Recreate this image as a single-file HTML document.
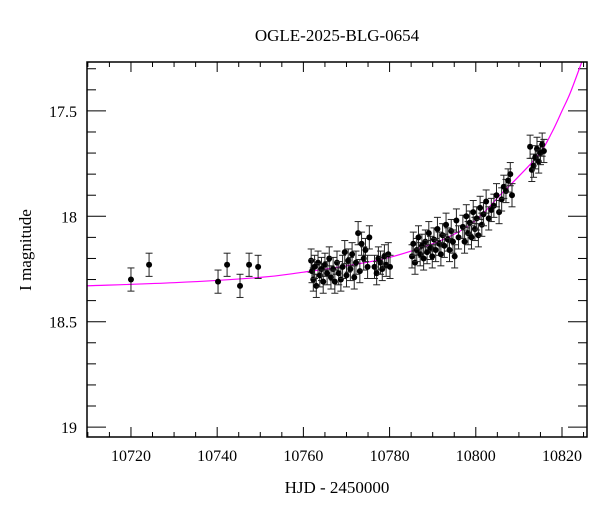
<!DOCTYPE html>
<html><head><meta charset="utf-8"><style>
body{margin:0;background:#fff}
svg text{font-family:"Liberation Serif","DejaVu Serif",serif;fill:#000}
</style></head><body>
<svg id="chart" width="600" height="512" xmlns="http://www.w3.org/2000/svg" font-family="Liberation Serif, DejaVu Serif, serif">
<rect width="600" height="512" fill="#fff"/>
<text x="337" y="41" font-size="17" text-anchor="middle" font-family="Liberation Serif, serif">OGLE-2025-BLG-0654</text>
<text x="337" y="493" font-size="17" text-anchor="middle" font-family="Liberation Serif, serif">HJD - 2450000</text>
<text transform="translate(31,250) rotate(-90)" font-size="17" text-anchor="middle" font-family="Liberation Serif, serif">I magnitude</text>
<g id="axes"></g><g id="model"></g><g id="pts"></g>
<rect x="87" y="62" width="500" height="375" fill="none" stroke="#000" stroke-width="1.5"/>
</svg>
<script>
const tData=[10720.0,10724.2,10740.2,10742.3,10745.3,10747.4,10749.5,
10761.8,10762.0,10762.3,10762.6,10763.0,10763.4,10763.8,10764.2,10764.6,10765.0,10765.5,10766.0,10766.4,10766.9,10767.3,10767.8,10768.2,10768.7,10769.1,10769.6,10770.0,10770.4,10770.9,10771.3,10771.8,10772.2,10772.7,10773.1,10773.5,10774.0,10774.4,10774.9,10775.3,10776.5,10777.0,10777.4,10777.9,10778.3,10778.8,10779.2,10779.7,10780.1,
10785.2,10785.5,10785.9,10786.3,10786.7,10787.1,10787.5,10787.9,10788.3,10788.7,10789.1,10789.5,10789.9,10790.3,10790.7,10791.1,10791.5,10791.9,10792.3,10792.7,10793.1,10793.5,10793.9,10794.3,10794.7,10795.1,10795.5,10796.0,10797.0,10797.4,10797.8,10798.2,10798.6,10799.0,10799.4,10799.8,10800.2,10800.6,10801.0,10801.4,10801.8,10802.4,10803.0,10803.6,10804.2,10804.8,10805.4,10806.0,10806.5,10807.0,10807.5,10808.0,10808.4,
10812.6,10813.0,10813.4,10813.8,10814.2,10814.6,10815.0,10815.4,10815.8];
const magData=[18.30,18.23,18.31,18.23,18.33,18.23,18.24,
18.21,18.26,18.30,18.24,18.33,18.22,18.28,18.25,18.31,18.23,18.27,18.20,18.29,18.25,18.31,18.22,18.27,18.30,18.24,18.17,18.28,18.21,18.25,18.18,18.29,18.22,18.08,18.26,18.13,18.20,18.16,18.24,18.10,18.24,18.27,18.20,18.22,18.25,18.19,18.23,18.18,18.24,
18.19,18.13,18.22,18.16,18.10,18.18,18.14,18.20,18.12,18.17,18.08,18.15,18.19,18.11,18.16,18.06,18.13,18.18,18.09,18.14,18.04,18.11,18.16,18.07,18.12,18.19,18.02,18.10,18.05,18.12,18.00,18.08,18.03,18.10,17.98,18.06,18.01,18.09,17.96,18.04,17.99,17.93,18.01,17.97,17.95,17.90,17.98,17.92,17.86,17.88,17.83,17.80,17.90,
17.67,17.78,17.76,17.72,17.68,17.74,17.70,17.66,17.69];
const ERR=0.055;
const modelT=[10709,10730,10750,10760,10770,10780,10790,10795,10799,10802,10805.6,10810,10814.9,10817.7,10820,10821.9,10824.2,10826];
const modelMag=[18.33,18.315,18.29,18.265,18.235,18.195,18.13,18.085,18.035,17.98,17.90,17.81,17.70,17.60,17.50,17.415,17.29,17.19];
const xTicks=[10720,10740,10760,10780,10800,10820];
const yTicks=[17.5,18,18.5,19];
const X0=10709.8,X1=10825.8,Y0=17.268,Y1=19.047,L=87,R=587,T=62,B=437;
const sx=v=>L+(v-X0)/(X1-X0)*(R-L), sy=v=>T+(v-Y0)/(Y1-Y0)*(B-T);
const NS="http://www.w3.org/2000/svg";
function mk(tag,at,par){const e=document.createElementNS(NS,tag);for(const k in at)e.setAttribute(k,at[k]);par.appendChild(e);return e;}
const ax=document.getElementById('axes');
for(let v=10710;v<=10825;v+=5){const x=sx(v);const maj=v%20===0;const len=maj?10:5;
 const a=mk('line',{x1:x,x2:x,y1:B,y2:B-len,stroke:'#000','stroke-width':1},ax);
 
 const b=mk('line',{x1:x,x2:x,y1:T,y2:T+len,stroke:'#000','stroke-width':1},ax);
 }
xTicks.forEach(v=>{const t=mk('text',{x:sx(v),y:B+24,'font-size':16,'text-anchor':'middle','font-family':'Liberation Serif, serif'},ax);t.textContent=v;
 });
for(let i=0;i<=17;i++){const v=17.3+i*0.1;const y=sy(v);const maj=Math.abs(v*2-Math.round(v*2))<1e-6;const len=maj?19:9;
 const a=mk('line',{x1:L,x2:L+len,y1:y,y2:y,stroke:'#000','stroke-width':1},ax);
 
 const b=mk('line',{x1:R,x2:R-len,y1:y,y2:y,stroke:'#000','stroke-width':1},ax);
 }
yTicks.forEach(v=>{const t=mk('text',{x:L-10,y:sy(v)+6,'font-size':16,'text-anchor':'end','font-family':'Liberation Serif, serif'},ax);t.textContent=v;
 });
const md=document.getElementById('model');
const P=modelT.map((t,i)=>[sx(t),sy(modelMag[i])]);
let d='M'+P[0][0].toFixed(1)+','+P[0][1].toFixed(1);
for(let i=0;i<P.length-1;i++){const p0=P[Math.max(0,i-1)],p1=P[i],p2=P[i+1],p3=P[Math.min(P.length-1,i+2)];
 const c1=[p1[0]+(p2[0]-p0[0])/6,p1[1]+(p2[1]-p0[1])/6],c2=[p2[0]-(p3[0]-p1[0])/6,p2[1]-(p3[1]-p1[1])/6];
 d+='C'+c1[0].toFixed(1)+','+c1[1].toFixed(1)+' '+c2[0].toFixed(1)+','+c2[1].toFixed(1)+' '+p2[0].toFixed(1)+','+p2[1].toFixed(1);}
const cp=mk('clipPath',{id:'clip'},md);mk('rect',{x:L,y:T,width:R-L,height:B-T},cp);
const p=mk('path',{d:d,fill:'none',stroke:'#ff00ff','stroke-width':1.2,'clip-path':'url(#clip)'},md);

const pg=document.getElementById('pts');
tData.forEach((t,i)=>{const x=sx(t),y=sy(magData[i]),y1=sy(magData[i]-ERR),y2=sy(magData[i]+ERR);
 const g=mk('g',{},pg);
 
 mk('line',{x1:x,x2:x,y1:y1,y2:y2,stroke:'#222','stroke-width':1},g);
 mk('line',{x1:x-3.5,x2:x+3.5,y1:y1,y2:y1,stroke:'#222','stroke-width':1},g);
 mk('line',{x1:x-3.5,x2:x+3.5,y1:y2,y2:y2,stroke:'#222','stroke-width':1},g);
 mk('circle',{cx:x,cy:y,r:3,fill:'#000'},g);});
</script>
</body></html>
